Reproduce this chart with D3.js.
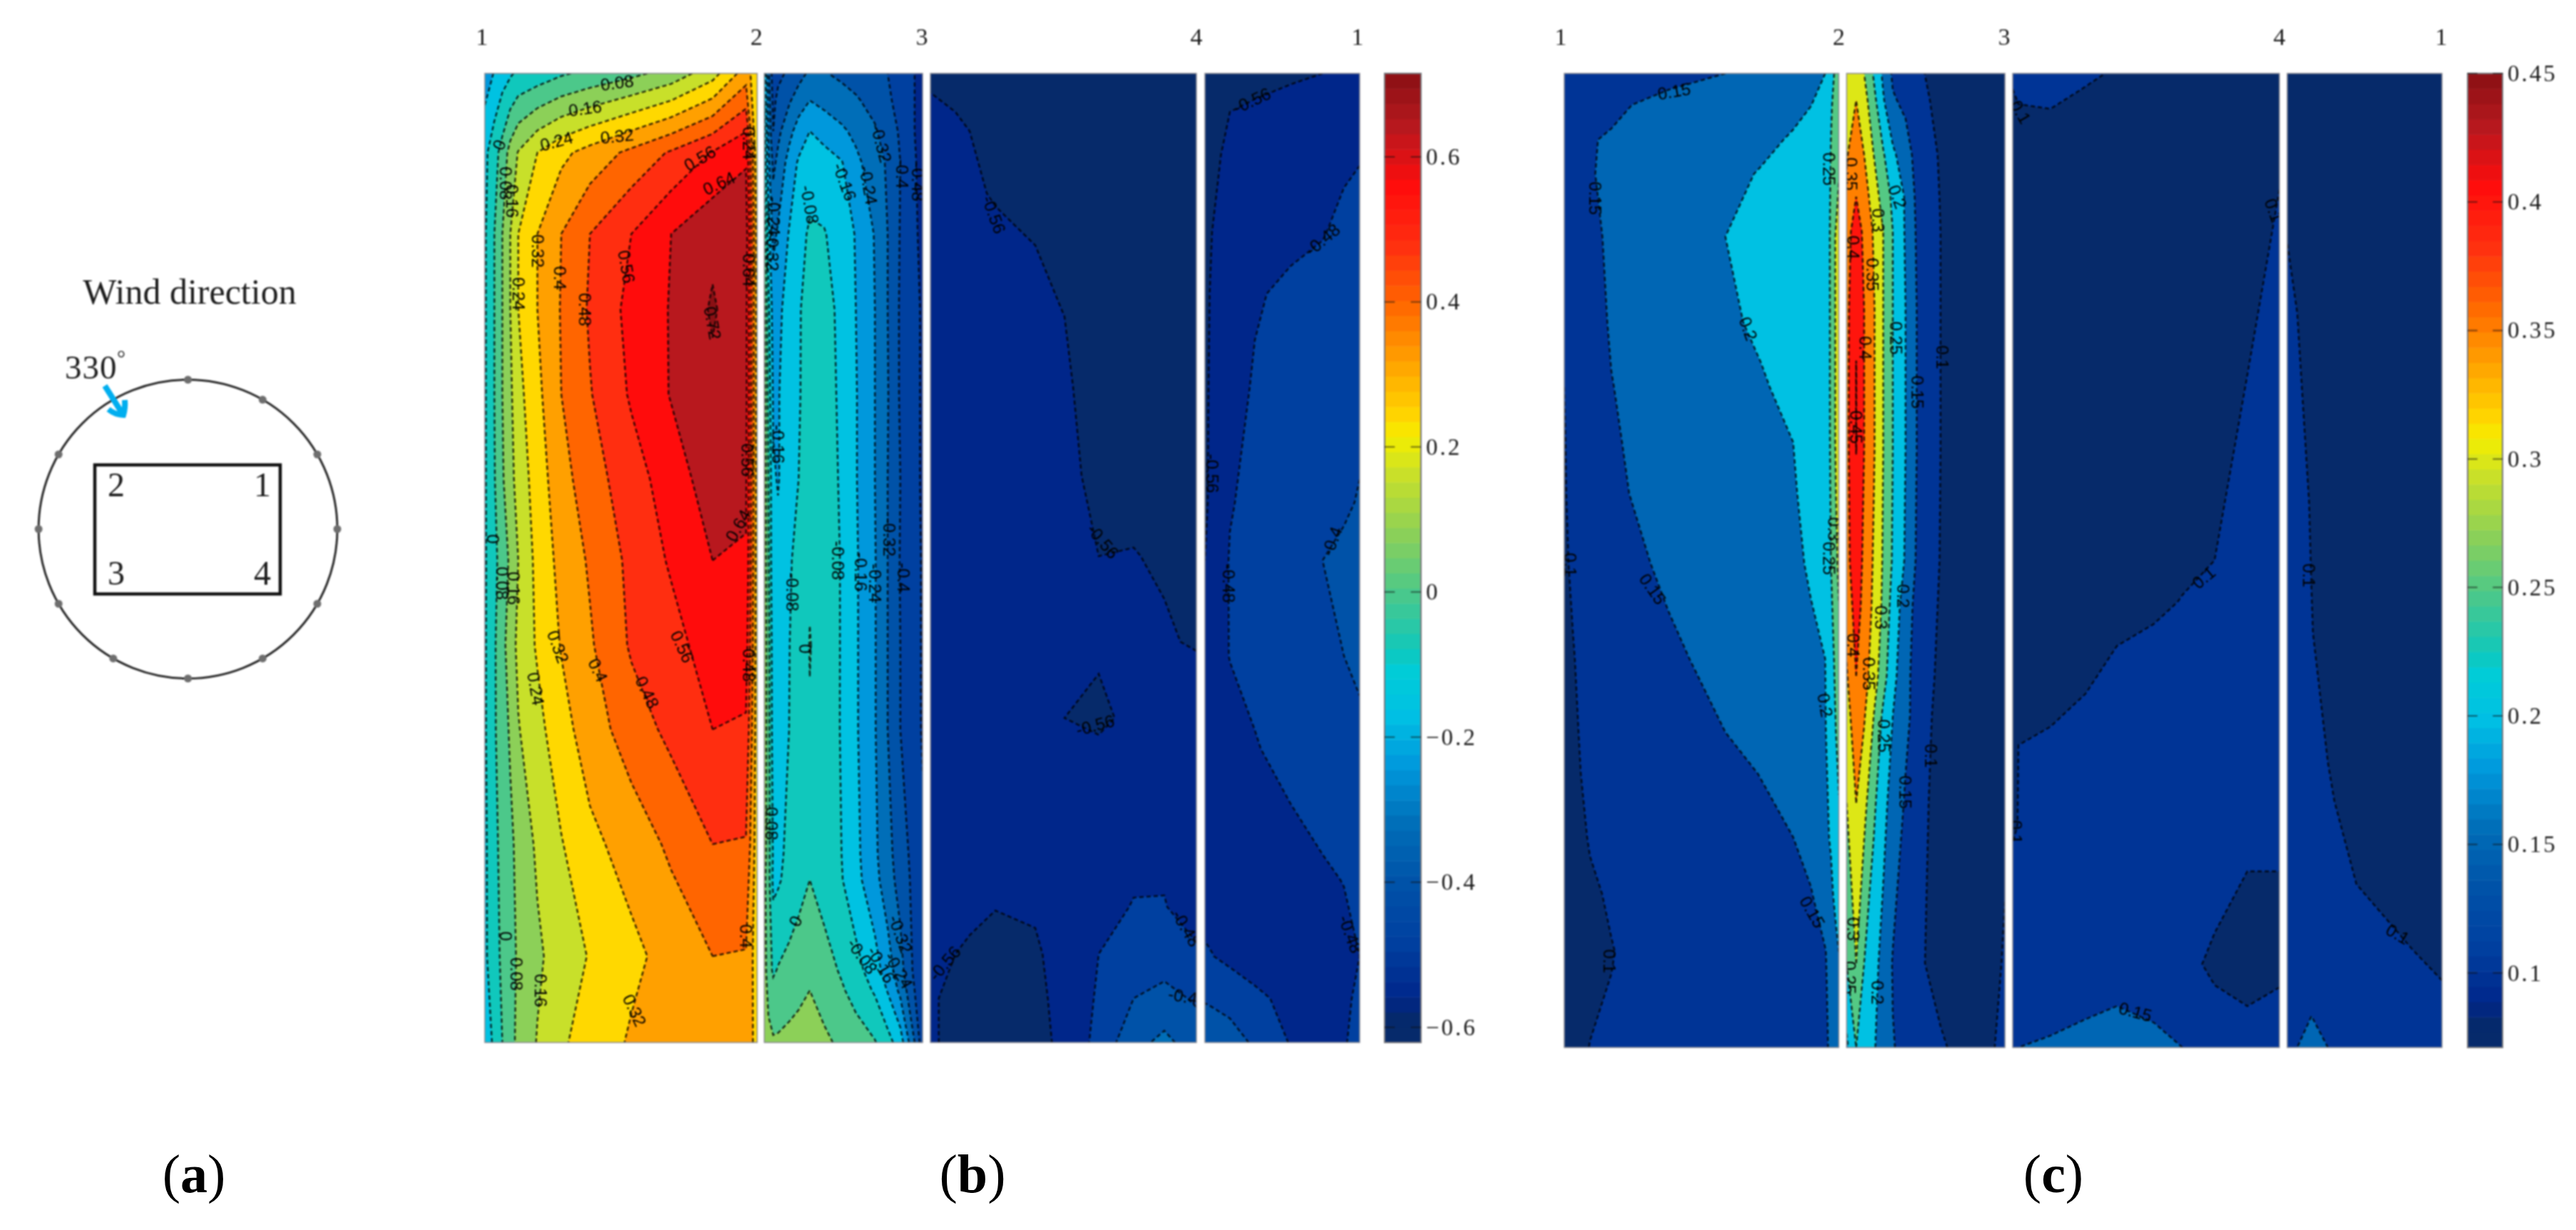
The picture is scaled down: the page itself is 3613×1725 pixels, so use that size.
<!DOCTYPE html>
<html><head><meta charset="utf-8">
<script src="https://cdnjs.cloudflare.com/ajax/libs/d3/7.8.5/d3.min.js"></script>
<style>html,body{margin:0;background:#fff}svg{display:block}.soft{filter:blur(1px)}</style>
</head><body><svg id="c" width="3613" height="1725" xmlns="http://www.w3.org/2000/svg"></svg>
<script>
// ---------- data ----------
const windAngle = 330;
const tapAngles = [0,30,60,90,120,150,180,210,240,270,300];
const faceLabelsTop = ["1","2","3","4","1"];
const buildingCorners = ["2","1","3","4"];
const panelLetters = ["a","b","c"];

const colormapT = [0,.03,.045,.105,.165,.225,.285,.337,.382,.405,.465,.525,.585,.625,.644,.704,.764,.824,.884,.944,1];
const colormapC = ["#062a6a","#05296d","#00268a","#0040a0","#0052a8","#006eb8","#0098dc","#00c0e4","#00ccd8","#10c8bc","#4cc88a","#8cd058","#c8e02a","#f4ee00","#ffd800","#ffa000","#ff6500","#ff2e10","#ff0c0c","#b8181e","#8a1014"];

const rangeB = [-0.621, 0.715];
const rangeC = [0.071, 0.45];
const levelsB = [-.56,-.48,-.4,-.32,-.24,-.16,-.08,0,.08,.16,.24,.32,.4,.48,.56,.64,.72];
const levelsC = [.1,.15,.2,.25,.3,.35,.4,.45];
const ticksB = [-.6,-.4,-.2,0,.2,.4,.6];
const ticksC = [.1,.15,.2,.25,.3,.35,.4,.45];

// (b) face 1-2
const b12Cols = [0,30,55,80,105,165,240,330,460,585,715,820,855];
const b12Rows = [0,111,225,331,450,569,683,802,920,1081,1238,1359];
const b12Vals = [
[-.2,-.155,-.115,-.09,-.065,-.045,-.01,.02,.06,.11,.208,.36,.26],
[-.10,-.03,.03,.11,.165,.24,.30,.35,.42,.49,.565,.63,.25],
[-.09,0,.08,.16,.24,.32,.4,.48,.56,.64,.70,.68,.28],
[-.09,0,.08,.16,.24,.32,.405,.49,.585,.645,.73,.66,.28],
[-.09,0,.08,.145,.215,.30,.40,.475,.57,.645,.70,.66,.28],
[-.09,-.005,.07,.135,.19,.28,.37,.445,.525,.60,.68,.65,.28],
[-.09,-.02,.035,.095,.16,.265,.345,.41,.50,.57,.64,.635,.27],
[-.09,-.01,.055,.12,.18,.25,.325,.39,.49,.53,.60,.60,.27],
[-.09,-.01,.045,.09,.155,.215,.29,.36,.44,.50,.56,.55,.27],
[-.095,-.025,.03,.065,.10,.175,.235,.30,.354,.415,.48,.475,.27],
[-.095,-.03,.015,.055,.09,.145,.20,.245,.30,.35,.40,.395,.27],
[-.11,-.07,0,.06,.095,.165,.23,.27,.33,.36,.38,.385,.28]];

// (b) face 2-3
const b23Cols = [0,13,28,43,78,108,143,188,243,288,348,388,428,473,498];
const b23Rows = [0,38,81,125,225,331,450,569,683,802,920,1095,1131,1258,1286,1359];
const b23Vals = [
[-.1,-.3,-.45,-.42,-.385,-.35,-.305,-.315,-.335,-.355,-.385,-.4,-.44,-.48,-.56],
[-.08,-.28,-.42,-.38,-.33,-.28,-.24,-.265,-.29,-.31,-.35,-.39,-.42,-.48,-.55],
[-.05,-.25,-.40,-.34,-.265,-.205,-.16,-.185,-.225,-.26,-.31,-.36,-.41,-.48,-.53],
[-.02,-.22,-.34,-.30,-.21,-.15,-.115,-.13,-.155,-.22,-.285,-.33,-.40,-.47,-.52],
[.04,-.12,-.26,-.23,-.155,-.105,-.07,-.075,-.115,-.165,-.245,-.32,-.405,-.465,-.505],
[.1,-.06,-.2,-.18,-.125,-.09,-.04,-.05,-.1,-.16,-.24,-.32,-.41,-.46,-.49],
[.12,-.03,-.17,-.165,-.125,-.09,-.03,-.045,-.095,-.155,-.24,-.315,-.41,-.46,-.49],
[.13,0,-.15,-.165,-.12,-.08,-.02,-.04,-.09,-.155,-.24,-.32,-.40,-.46,-.49],
[.13,.01,-.15,-.14,-.09,-.055,-.01,-.03,-.085,-.15,-.235,-.32,-.405,-.46,-.485],
[.13,.03,-.13,-.125,-.082,-.05,.003,-.03,-.085,-.15,-.235,-.32,-.40,-.46,-.485],
[.13,.03,-.12,-.11,-.08,-.05,-.005,-.035,-.085,-.15,-.235,-.32,-.40,-.46,-.485],
[.12,.03,-.09,-.09,-.07,-.045,-.01,-.04,-.08,-.14,-.225,-.295,-.36,-.43,-.47],
[.1,.03,-.1,-.09,-.055,-.03,0,-.035,-.075,-.135,-.215,-.285,-.35,-.425,-.47],
[.12,.03,-.01,.005,.025,.045,.065,.035,-.01,-.05,-.125,-.20,-.29,-.42,-.48],
[.12,.06,.02,.035,.05,.065,.08,.05,.01,-.03,-.09,-.165,-.26,-.40,-.47],
[.1,.1,.09,.09,.10,.105,.11,.095,.065,.04,.005,-.05,-.12,-.32,-.45]];

// (b) face 3-4
const b34Cols = [0,35,55,91,147,188,236,285,328,373];
const b34Rows = [0,81,168,241,341,439,564,677,797,842,904,937,1169,1235,1297,1359];
const b34Vals = [
[-.57,-.58,-.58,-.585,-.59,-.6,-.6,-.6,-.6,-.6],
[-.54,-.55,-.56,-.57,-.585,-.59,-.6,-.6,-.6,-.6],
[-.52,-.535,-.55,-.565,-.58,-.59,-.6,-.6,-.6,-.6],
[-.51,-.525,-.535,-.545,-.56,-.58,-.59,-.6,-.6,-.6],
[-.51,-.52,-.53,-.54,-.55,-.56,-.58,-.59,-.6,-.6],
[-.51,-.52,-.525,-.535,-.545,-.555,-.575,-.59,-.6,-.6],
[-.51,-.515,-.52,-.53,-.54,-.55,-.57,-.585,-.6,-.6],
[-.51,-.515,-.52,-.525,-.535,-.545,-.56,-.557,-.57,-.595],
[-.51,-.515,-.52,-.525,-.53,-.535,-.54,-.545,-.55,-.57],
[-.51,-.515,-.52,-.525,-.535,-.54,-.56,-.545,-.54,-.535],
[-.51,-.515,-.52,-.53,-.54,-.56,-.585,-.53,-.53,-.525],
[-.51,-.515,-.52,-.525,-.53,-.55,-.55,-.53,-.52,-.515],
[-.52,-.535,-.545,-.558,-.552,-.535,-.50,-.477,-.477,-.51],
[-.535,-.56,-.57,-.585,-.57,-.53,-.48,-.445,-.44,-.47],
[-.54,-.6,-.59,-.60,-.575,-.54,-.47,-.40,-.375,-.41],
[-.54,-.6,-.6,-.6,-.58,-.545,-.455,-.345,-.30,-.36]];

// (b) face 4-1
const b41Cols = [0,10,35,70,120,165,195,217];
const b41Rows = [0,54,114,222,309,439,602,683,817,947,1024,1131,1238,1297,1359];
const b41Vals = [
[-.6,-.6,-.59,-.58,-.57,-.56,-.53,-.51],
[-.585,-.575,-.56,-.55,-.535,-.52,-.505,-.49],
[-.58,-.57,-.55,-.535,-.52,-.51,-.495,-.485],
[-.575,-.56,-.535,-.52,-.505,-.485,-.46,-.45],
[-.57,-.555,-.525,-.49,-.46,-.45,-.44,-.43],
[-.57,-.55,-.52,-.47,-.45,-.44,-.43,-.42],
[-.57,-.545,-.485,-.46,-.44,-.425,-.41,-.395],
[-.56,-.54,-.475,-.455,-.43,-.40,-.385,-.375],
[-.53,-.51,-.478,-.46,-.44,-.415,-.40,-.385],
[-.53,-.525,-.51,-.485,-.455,-.44,-.43,-.42],
[-.53,-.525,-.515,-.50,-.48,-.46,-.45,-.44],
[-.52,-.52,-.515,-.51,-.50,-.49,-.478,-.465],
[-.47,-.478,-.50,-.515,-.52,-.51,-.50,-.48],
[-.405,-.41,-.425,-.465,-.50,-.53,-.49,-.47],
[-.36,-.36,-.37,-.41,-.485,-.52,-.485,-.46]];

// (c) face 1-2
const c12Cols = [0,12,36,66,96,146,226,276,321,346,366,374,380,385];
const c12Rows = [0,46,93,141,229,349,440,517,589,687,821,924,982,1071,1151,1232,1263,1366];
const c12Vals = [
[.115,.117,.122,.127,.132,.14,.15,.165,.18,.19,.2,.235,.255,.27],
[.118,.122,.13,.14,.151,.16,.175,.185,.193,.2,.22,.245,.265,.28],
[.12,.125,.147,.155,.162,.17,.185,.193,.203,.215,.23,.25,.27,.29],
[.12,.125,.148,.156,.163,.175,.192,.202,.212,.22,.23,.252,.275,.295],
[.12,.125,.143,.155,.165,.18,.2,.21,.215,.22,.23,.255,.30,.33],
[.115,.122,.137,.153,.162,.175,.195,.205,.212,.218,.228,.255,.30,.33],
[.10,.115,.13,.149,.157,.167,.185,.197,.208,.215,.228,.255,.30,.33],
[.098,.112,.128,.145,.155,.165,.178,.19,.2,.212,.225,.255,.30,.33],
[.097,.11,.125,.14,.152,.162,.175,.187,.197,.21,.225,.253,.295,.32],
[.095,.105,.12,.13,.14,.16,.172,.185,.195,.203,.222,.25,.285,.31],
[.09,.098,.115,.122,.13,.14,.167,.178,.188,.195,.2,.225,.26,.285],
[.085,.095,.11,.115,.12,.13,.15,.165,.178,.188,.198,.215,.245,.27],
[.08,.093,.108,.112,.117,.125,.14,.151,.168,.18,.195,.21,.235,.255],
[.08,.09,.102,.108,.112,.118,.13,.14,.15,.17,.19,.205,.225,.24],
[.078,.085,.096,.103,.108,.112,.122,.13,.14,.147,.175,.19,.21,.225],
[.075,.08,.09,.099,.105,.108,.115,.122,.13,.137,.148,.165,.185,.2],
[.075,.08,.09,.1,.105,.108,.113,.12,.128,.135,.147,.16,.175,.195],
[.075,.085,.101,.105,.108,.11,.112,.118,.125,.133,.145,.155,.16,.165]];

// (c) face 2-3
const c23Cols = [0,30,55,85,115,145,185,220,295,380,465,497];
const c23Rows = [0,38,114,173,222,331,417,527,683,748,845,901,1023,1248,1366];
const c23Vals = [
[.315,.33,.30,.245,.19,.142,.13,.11,.08,.08,.08,.08],
[.33,.35,.32,.265,.205,.155,.14,.125,.08,.08,.08,.08],
[.345,.385,.35,.30,.255,.21,.17,.135,.095,.08,.08,.08],
[.36,.40,.375,.325,.28,.24,.195,.14,.098,.08,.08,.08],
[.38,.425,.39,.345,.30,.25,.195,.145,.10,.08,.08,.08],
[.385,.445,.40,.355,.30,.25,.20,.15,.10,.08,.08,.08],
[.385,.451,.40,.355,.30,.25,.20,.15,.10,.08,.08,.08],
[.385,.451,.40,.355,.30,.25,.20,.15,.10,.08,.08,.08],
[.385,.43,.39,.345,.295,.245,.195,.145,.098,.08,.08,.08],
[.37,.42,.385,.34,.29,.23,.175,.135,.095,.08,.08,.085],
[.345,.40,.37,.325,.27,.215,.165,.13,.09,.08,.08,.09],
[.33,.38,.355,.30,.24,.20,.16,.135,.08,.08,.082,.09],
[.30,.35,.315,.26,.215,.18,.145,.115,.085,.08,.085,.092],
[.25,.30,.25,.215,.185,.147,.125,.108,.085,.08,.09,.105],
[.19,.25,.235,.205,.175,.152,.14,.13,.105,.085,.1,.108]];

// (c) face 3-4
const c34Cols = [0,8,53,102,146,198,238,283,329,374];
const c34Rows = [0,22,60,163,423,683,741,803,870,916,942,1054,1080,1119,1249,1308,1366];
const c34Vals = [
[.125,.12,.115,.105,.097,.09,.09,.09,.09,.09],
[.10,.105,.108,.099,.09,.09,.09,.09,.09,.09],
[.09,.096,.097,.09,.09,.09,.09,.09,.09,.09],
[.085,.085,.085,.085,.085,.085,.085,.085,.09,.1],
[.085,.085,.085,.085,.085,.085,.085,.09,.1,.115],
[.085,.085,.085,.085,.085,.085,.09,.1,.115,.125],
[.085,.085,.085,.085,.085,.09,.102,.11,.118,.128],
[.085,.085,.085,.09,.1,.11,.113,.115,.12,.125],
[.085,.085,.09,.1,.108,.115,.118,.118,.115,.115],
[.085,.09,.1,.108,.113,.12,.122,.12,.115,.112],
[.09,.1,.105,.11,.118,.122,.122,.12,.115,.11],
[.095,.101,.108,.115,.12,.123,.122,.118,.108,.105],
[.1,.103,.11,.118,.122,.125,.122,.115,.106,.103],
[.103,.107,.113,.12,.125,.127,.122,.11,.1,.1],
[.108,.113,.12,.128,.135,.13,.108,.095,.085,.085],
[.11,.12,.13,.143,.15,.14,.125,.105,.1,.112],
[.145,.15,.158,.165,.175,.165,.15,.135,.118,.112]];

// (c) face 4-1
const c41Cols = [0,14,34,57,97,140,175,217];
const c41Rows = [0,238,336,602,785,1021,1137,1187,1228,1272,1322,1366];
const c41Vals = [
[.085,.085,.085,.085,.085,.085,.085,.085],
[.1,.085,.085,.085,.085,.085,.085,.085],
[.11,.1,.09,.085,.085,.085,.085,.085],
[.115,.11,.098,.09,.085,.085,.085,.085],
[.118,.115,.101,.09,.085,.085,.085,.085],
[.12,.118,.11,.103,.09,.085,.085,.085],
[.125,.122,.115,.11,.1,.09,.085,.085],
[.13,.125,.12,.113,.107,.1,.09,.085],
[.135,.13,.125,.118,.112,.106,.1,.09],
[.14,.138,.135,.12,.115,.11,.105,.1],
[.145,.147,.15,.14,.12,.115,.11,.105],
[.148,.15,.16,.15,.125,.118,.113,.108]];

// contour labels: text, along-face position, down-face position, slope
const b12Labels = [["0.08",415,13,-8],["0.16",315,49,-8],["0.24",225,95,-15],["0.32",415,88,-6],["0.56",675,119,-30],["0.64",735,154,-25],
["0",45,100,-70],["0.08",65,154,90],["0.16",85,179,90],["0.24",105,309,90],["0.32",167,249,90],["0.4",235,287,90],["0.48",315,331,90],["0.56",445,271,80],
["0.72",715,350,80],["0.64",795,634,-60],["0.64",830,276,90],["0.56",825,542,90],["0.24",830,98,90],["0",25,653,90],["0.08",55,715,90],["0.16",90,722,90],
["0.32",230,804,70],["0.4",355,837,65],["0.48",510,868,65],["0.56",620,804,65],["0.24",160,863,80],["0",65,1210,90],["0.08",100,1263,90],["0.16",175,1286,90],
["0.32",470,1314,65],["0.4",820,1210,90],["0.48",830,830,90]];
const b23Labels = [["-0.32",368,98,75],["-0.24",328,157,80],["-0.4",433,141,90],["-0.48",483,152,90],["-0.16",253,152,70],["-0.08",143,184,80],
["-0.24",30,200,90],["-0.32",25,250,90],["-0.16",43,520,90],["-0.08",88,727,90],["0",128,807,90],["-0.08",233,683,90],["-0.16",303,699,90],["-0.24",348,715,90],
["-0.32",393,650,90],["-0.4",438,707,90],["0",98,1189,-65],["-0.08",308,1238,55],["-0.16",368,1250,60],["-0.24",423,1258,60],["-0.32",428,1207,70],["0.08",23,1052,90]];
const b34Labels = [["-0.56",89,198,70],["-0.56",242,656,50],["-0.56",231,914,-15],["-0.56",20,1248,-50],["-0.48",359,1199,60],["-0.4",354,1294,10]];
const b41Labels = [["-0.56",66,38,-25],["-0.48",165,233,-40],["-0.56",10,561,90],["-0.48",33,715,90],["-0.4",178,656,-70],["-0.48",204,1207,70]];
const c12Labels = [["0.15",154,25,-10],["0.15",43,175,90],["0.2",258,358,70],["0.25",371,134,90],["0.1",8,689,90],["0.15",124,723,55],["0.2",366,886,80],
["0.15",348,1176,60],["0.1",63,1245,90],["0.3",378,639,90],["0.25",371,680,90]];
const c23Labels = [["0.35",15,141,90],["0.3",100,206,90],["0.4",20,244,90],["0.35",82,282,90],["0.25",155,371,90],["0.4",60,385,90],["0.15",223,447,90],["0.45",30,496,90],
["0.1",300,398,90],["0.2",160,173,70],["0.4",20,802,90],["0.35",70,842,90],["0.3",108,763,90],["0.2",178,733,90],["0.25",118,929,90],["0.1",265,957,90],["0.15",185,1008,90],
["0.3",22,1200,90],["0.2",98,1289,90],["0.25",10,1268,90]];
const c34Labels = [["0.1",11,54,60],["0.1",4,1064,90],["0.1",268,707,-40],["0.1",366,192,70],["0.15",172,1316,15]];
const c41Labels = [["0.1",30,704,90],["0.1",155,1207,30]];

// ---------- drawing ----------
const svg = d3.select("#c");
const serif = "'Liberation Serif','DejaVu Serif',serif";
const sans = "'Liberation Sans',Arial,sans-serif";
const colormap = d3.scaleLinear().domain(colormapT).range(colormapC).interpolate(d3.interpolateRgb).clamp(true);

const plotTop = 103, botB = 1462, botC = 1469;
const chartB = {range:rangeB, levels:levelsB, y0:plotTop, y1:botB, ticks:ticksB, bar:[1942,1993],
  tops:[[676,1061,1293,1678,1904]],
  panels:[
   {x:[680,1062],cols:b12Cols,rows:b12Rows,vals:b12Vals,labels:b12Labels},
   {x:[1072,1294],cols:b23Cols,rows:b23Rows,vals:b23Vals,labels:b23Labels},
   {x:[1305,1678],cols:b34Cols,rows:b34Rows,vals:b34Vals,labels:b34Labels},
   {x:[1690,1907],cols:b41Cols,rows:b41Rows,vals:b41Vals,labels:b41Labels}]};
const chartC = {range:rangeC, levels:levelsC, y0:plotTop, y1:botC, ticks:ticksC, bar:[3461,3510],
  tops:[[2189,2579,2811,3197,3424]],
  panels:[
   {x:[2194,2579],cols:c12Cols,rows:c12Rows,vals:c12Vals,labels:c12Labels},
   {x:[2590,2812],cols:c23Cols,rows:c23Rows,vals:c23Vals,labels:c23Labels},
   {x:[2823,3197],cols:c34Cols,rows:c34Rows,vals:c34Vals,labels:c34Labels},
   {x:[3208,3425],cols:c41Cols,rows:c41Rows,vals:c41Vals,labels:c41Labels}]};

let clipId = 0;
function drawPanel(chart, p){
  const n = p.cols.length, m = p.rows.length;
  p.vals.forEach((r,i)=>{ if(r.length!==n) throw new Error("row "+i+" len "+r.length+" vs "+n); });
  if(p.vals.length!==m) throw new Error("rows "+p.vals.length+" vs "+m);
  const sx = d3.scaleLinear().domain([p.cols[0],p.cols[n-1]]).range(p.x);
  const sy = d3.scaleLinear().domain([p.rows[0],p.rows[m-1]]).range([chart.y0,chart.y1]);
  const gx = d3.scaleLinear().domain([0,...p.cols.map((_,i)=>i+.5),n]).range([p.cols[0],...p.cols,p.cols[n-1]]);
  const gy = d3.scaleLinear().domain([0,...p.rows.map((_,i)=>i+.5),m]).range([p.rows[0],...p.rows,p.rows[m-1]]);
  const X = v=>sx(gx(v)), Y = v=>sy(gy(v));
  const id = "clip"+(clipId++);
  svg.append("clipPath").attr("id",id).append("rect")
    .attr("x",p.x[0]).attr("y",chart.y0).attr("width",p.x[1]-p.x[0]).attr("height",chart.y1-chart.y0);
  const outer = svg.append("g").attr("class","soft");
  const g = outer.append("g").attr("clip-path",`url(#${id})`);
  const [lo,hi] = chart.range;
  const tOf = v=>(v-lo)/(hi-lo);
  g.append("rect").attr("x",p.x[0]).attr("y",chart.y0).attr("width",p.x[1]-p.x[0]).attr("height",chart.y1-chart.y0)
    .attr("fill",colormap(0));
  const contours = d3.contours().size([n,m]).thresholds(chart.levels)(d3.merge(p.vals));
  const path = d3.geoPath(d3.geoTransform({point(x,y){this.stream.point(X(x),Y(y));}}));
  g.selectAll("path.band").data(contours).join("path").attr("class","band")
    .attr("d",path).attr("fill",d=>colormap(tOf(d.value))).attr("stroke",d=>colormap(tOf(d.value))).attr("stroke-width",.6);
  // interior contour lines only: segments running along the panel edge are skipped
  const eps = .01;
  const sameEdge = (a,b)=> (Math.abs(a[0]-p.x[0])<eps&&Math.abs(b[0]-p.x[0])<eps)||(Math.abs(a[0]-p.x[1])<eps&&Math.abs(b[0]-p.x[1])<eps)
     ||(Math.abs(a[1]-chart.y0)<eps&&Math.abs(b[1]-chart.y0)<eps)||(Math.abs(a[1]-chart.y1)<eps&&Math.abs(b[1]-chart.y1)<eps);
  contours.forEach(c=>{
    const d = d3.path();
    c.coordinates.forEach(poly=>poly.forEach(ring=>{
      let pen=false;
      for(let i=1;i<ring.length;i++){
        const a=[X(ring[i-1][0]),Y(ring[i-1][1])], b=[X(ring[i][0]),Y(ring[i][1])];
        if(sameEdge(a,b)){pen=false;continue;}
        if(!pen){d.moveTo(a[0],a[1]);pen=true;}
        d.lineTo(b[0],b[1]);
      }
    }));
    g.append("path").attr("d",d.toString()).attr("fill","none").attr("stroke","#000")
      .attr("stroke-opacity",.8).attr("stroke-width",2.4).attr("stroke-dasharray","6 4");
  });
  g.selectAll("text").data(p.labels).join("text")
    .attr("transform",d=>`translate(${sx(d[1])},${sy(d[2])}) rotate(${d[3]})`)
    .attr("text-anchor","middle").attr("dy","0.35em").attr("font-family",sans).attr("font-size",24)
    .attr("fill","#000").text(d=>d[0]);
  outer.append("rect").attr("x",p.x[0]).attr("y",chart.y0).attr("width",p.x[1]-p.x[0]).attr("height",chart.y1-chart.y0)
    .attr("fill","none").attr("stroke","#8a8a92").attr("stroke-width",1.5);
}

function drawBar(chart){
  const [lo,hi] = chart.range, [a,b] = chart.bar;
  const sy = d3.scaleLinear().domain([lo,hi]).range([chart.y1,chart.y0]);
  const stripes = d3.range(64);
  const band = d3.scaleBand().domain(stripes).range([chart.y1,chart.y0]);
  const root = svg.append("g").attr("class","soft");
  root.append("g").selectAll("rect").data(stripes).join("rect")
    .attr("x",a).attr("width",b-a).attr("y",d=>band(d)).attr("height",band.bandwidth()+.5)
    .attr("fill",d=>colormap((d+.5)/64));
  root.append("rect").attr("x",a).attr("y",chart.y0).attr("width",b-a).attr("height",chart.y1-chart.y0)
    .attr("fill","none").attr("stroke","#77777c").attr("stroke-width",2);
  const axis = d3.axisRight(sy).tickValues(chart.ticks).tickSize(0).tickPadding(7)
     .tickFormat(v=>String(v).replace("-","\u2212"));
  const g = root.append("g").attr("transform",`translate(${b},0)`).call(axis);
  g.select(".domain").remove();
  g.selectAll("text").attr("font-family",serif).attr("font-size",33).attr("letter-spacing",3).attr("fill","#1a1a1a");
  const w=(b-a);
  root.append("g").selectAll("path").data(chart.ticks).join("path")
    .attr("d",v=>`M${a},${sy(v)}h${w*.28}M${b},${sy(v)}h${-w*.28}`)
    .attr("stroke","#111").attr("stroke-opacity",.55).attr("stroke-width",2);
}

[chartB,chartC].forEach(ch=>{
  ch.panels.forEach(p=>drawPanel(ch,p));
  drawBar(ch);
  svg.append("g").attr("class","soft").selectAll("text").data(ch.tops[0]).join("text")
    .attr("x",d=>d).attr("y",63).attr("text-anchor","middle")
    .attr("font-family",serif).attr("font-size",34).attr("fill","#1a1a1a").text((d,i)=>faceLabelsTop[i]);
});

// (a) plan sketch
const cx=263.6, cy=742, R=209.5;
const sk = svg.append("g").attr("class","soft");
sk.append("text").attr("x",266).attr("y",426).attr("text-anchor","middle").attr("font-family",serif).attr("font-size",50).attr("fill","#1c1c1c").text("Wind direction");
sk.append("circle").attr("cx",cx).attr("cy",cy).attr("r",R).attr("fill","none").attr("stroke","#2a2a2a").attr("stroke-width",3);
sk.selectAll("circle.tap").data(tapAngles).join("circle").attr("class","tap")
  .attr("cx",d=>cx+R*Math.sin(d*Math.PI/180)).attr("cy",d=>cy-R*Math.cos(d*Math.PI/180)).attr("r",5.5).attr("fill","#6e6e6e");
sk.append("rect").attr("x",133).attr("y",652).attr("width",260).attr("height",181).attr("fill","none").attr("stroke","#111").attr("stroke-width",4.5);
const cornerPos=[[163,696],[368,696],[163,820],[368,820]];
sk.selectAll("text.corner").data(buildingCorners).join("text").attr("class","corner")
  .attr("x",(d,i)=>cornerPos[i][0]).attr("y",(d,i)=>cornerPos[i][1]).attr("text-anchor","middle")
  .attr("font-family",serif).attr("font-size",48).attr("fill","#1c1c1c").text(d=>d);
sk.append("text").attr("x",91).attr("y",531).attr("font-family",serif).attr("font-size",47).attr("letter-spacing",1).attr("fill","#1c1c1c").text(windAngle);
sk.append("text").attr("x",164).attr("y",512).attr("font-family",serif).attr("font-size",30).attr("fill","#1c1c1c").text("\u00b0");
sk.append("path").attr("d","M147,541L171,579").attr("stroke","#00aeef").attr("stroke-width",8).attr("fill","none");
sk.append("path").attr("d","M152,574Q162,582 173,582Q176,572 175,561").attr("stroke","#00aeef").attr("stroke-width",8).attr("fill","none");

// panel letters
const letterX=[272,1364,2880];
panelLetters.forEach((l,i)=>{
  const t=svg.append("text").attr("x",letterX[i]).attr("y",1672).attr("text-anchor","middle")
    .attr("font-family","'Liberation Serif',serif").attr("font-size",76).attr("fill","#000");
  t.append("tspan").text("(");
  t.append("tspan").attr("font-weight","bold").text(l);
  t.append("tspan").text(")");
});
</script></body></html>
